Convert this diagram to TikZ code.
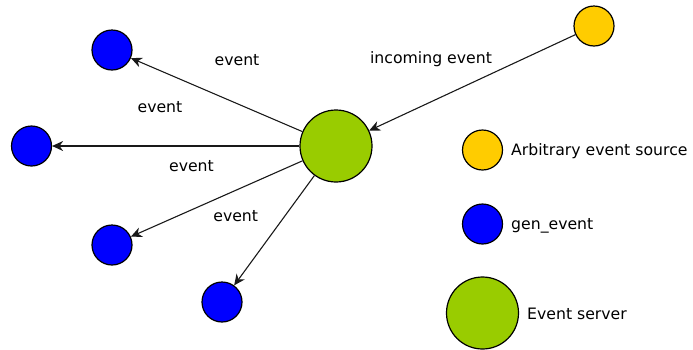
\documentclass[tikz,border=0pt]{standalone}
\usepackage{fontspec}
\setmainfont{DejaVu Sans}
\usetikzlibrary{arrows.meta}
\definecolor{srcorange}{HTML}{FFCC00}
\definecolor{srvgreen}{HTML}{99CC00}
\definecolor{genblue}{HTML}{0000FF}
\tikzset{
  ball/.style={circle, draw=black, line width=1.2pt, inner sep=0pt},
  srcball/.style={ball, fill=srcorange, minimum size=40pt},
  genball/.style={ball, fill=genblue, minimum size=40pt},
  srvball/.style={ball, fill=srvgreen, minimum size=72pt},
  lbl/.style={font=\fontsize{15.7}{18}\selectfont, inner sep=0pt, anchor=base},
  leg/.style={font=\fontsize{15.7}{18}\selectfont, inner sep=0pt, anchor=base west},
  flow/.style={line width=1.1pt, draw=black!90, -{Stealth[length=11pt,width=10pt,inset=3.5pt]}}
}
\begin{document}
\begin{tikzpicture}[x=1pt,y=-1pt]
\useasboundingbox (0,0) rectangle (693,349);
\node[srvball] (srv) at (336,146) {};
\node[srcball] (src) at (594,26) {};
\node[genball] (g1) at (112,50) {};
\node[genball] (g2) at (31.5,146) {};
\node[genball] (g3) at (112,245) {};
\node[genball] (g4) at (222,302) {};
\draw[flow] (src) -- (srv);
\draw[flow] (srv) -- (g1);
\draw[flow] (srv) -- (g2);
\draw[flow] (srv) -- (g3);
\draw[flow] (srv) -- (g4);
\node[lbl] (t0) at (431,63.5) {incoming event};
\node[lbl] (t1) at (237,65.7) {event};
\node[lbl] (t2) at (160,112) {event};
\node[lbl] (t3) at (191.5,171.7) {event};
\node[lbl] (t4) at (235.7,221) {event};
\node[srcball] (l1) at (482.5,150) {};
\node[genball] (l2) at (482.5,224) {};
\node[srvball] (l3) at (482.5,313) {};
\node[leg] (lt1) at (511,155.5) {Arbitrary event source};
\node[leg] (lt2) at (511,229.5) {gen\_event};
\node[leg] (lt3) at (527,319) {Event server};
\end{tikzpicture}
\end{document}
